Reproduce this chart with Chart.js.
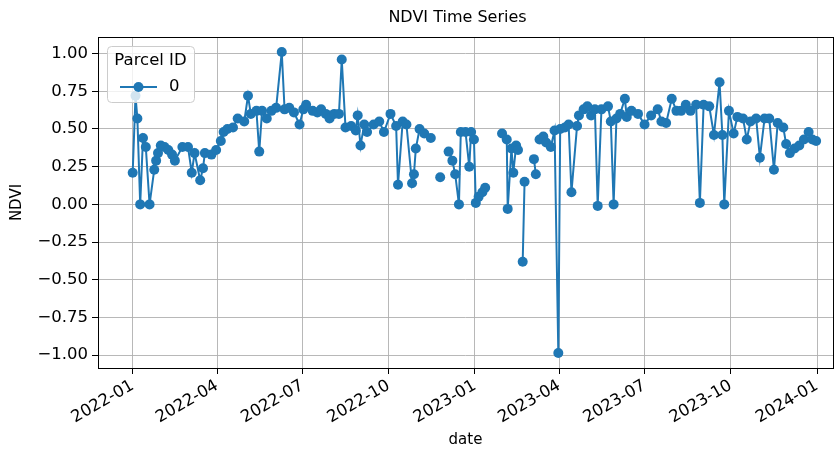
<!DOCTYPE html>
<html>
<head>
<meta charset="utf-8">
<script src="https://cdn.jsdelivr.net/npm/chart.js@4.4.0/dist/chart.umd.min.js"></script>
<style>
  html, body { margin: 0; padding: 0; background: #fff; overflow: hidden; }
  canvas { display: block; }
</style>
</head>
<body>
<canvas id="ndviChart" width="838" height="452"></canvas>
<script>
// observation dates (null values break the line, like NaN in pandas)
var dates = [
  '2022-01-01','2022-01-04','2022-01-06','2022-01-09','2022-01-12','2022-01-15','2022-01-19','2022-01-24',
  '2022-01-26','2022-01-28','2022-01-31','2022-02-04','2022-02-08','2022-02-12','2022-02-15','2022-02-23',
  '2022-03-01','2022-03-05','2022-03-08','2022-03-14','2022-03-17','2022-03-19','2022-03-26','2022-03-31',
  '2022-04-05','2022-04-08','2022-04-12','2022-04-18','2022-04-23','2022-04-30','2022-05-04','2022-05-07',
  '2022-05-13','2022-05-16','2022-05-19','2022-05-24','2022-05-29','2022-06-03','2022-06-09','2022-06-12',
  '2022-06-17','2022-06-22','2022-06-28','2022-07-02','2022-07-05','2022-07-12','2022-07-17','2022-07-21',
  '2022-07-26','2022-07-30','2022-08-04','2022-08-09','2022-08-12','2022-08-16','2022-08-22','2022-08-27',
  '2022-08-29','2022-09-01','2022-09-05','2022-09-08','2022-09-15','2022-09-21','2022-09-26','2022-10-03',
  '2022-10-09','2022-10-11','2022-10-16','2022-10-20','2022-10-26','2022-10-28','2022-10-30','2022-11-03',
  '2022-11-08','2022-11-15','2022-11-20','2022-11-25','2022-11-30','2022-12-04','2022-12-08','2022-12-11',
  '2022-12-15','2022-12-17','2022-12-22','2022-12-26','2022-12-28','2022-12-31','2023-01-02','2023-01-05',
  '2023-01-09','2023-01-12','2023-01-20','2023-01-30','2023-02-04','2023-02-05','2023-02-09','2023-02-11',
  '2023-02-14','2023-02-16','2023-02-18','2023-02-21','2023-02-23','2023-03-01','2023-03-05','2023-03-07',
  '2023-03-09','2023-03-11','2023-03-15','2023-03-18','2023-03-23','2023-03-27','2023-03-31','2023-04-02',
  '2023-04-07','2023-04-11','2023-04-14','2023-04-20','2023-04-22','2023-04-27','2023-05-01','2023-05-05',
  '2023-05-09','2023-05-12','2023-05-16','2023-05-23','2023-05-26','2023-05-29','2023-06-01','2023-06-05',
  '2023-06-10','2023-06-12','2023-06-17','2023-06-24','2023-07-01','2023-07-08','2023-07-15','2023-07-19',
  '2023-07-24','2023-07-30','2023-08-04','2023-08-09','2023-08-14','2023-08-19','2023-08-25','2023-08-29',
  '2023-09-02','2023-09-08','2023-09-13','2023-09-19','2023-09-22','2023-09-24','2023-09-29','2023-10-04',
  '2023-10-08','2023-10-14','2023-10-18','2023-10-22','2023-10-28','2023-11-01','2023-11-06','2023-11-11',
  '2023-11-16','2023-11-20','2023-11-26','2023-11-29','2023-12-03','2023-12-08','2023-12-13','2023-12-18',
  '2023-12-23','2023-12-27','2023-12-31'
];

var ndvi = [
  0.21, 0.72, 0.57, 0.00, 0.44, 0.38, 0.00, 0.23,
  0.29, 0.34, 0.39, 0.38, 0.36, 0.33, 0.29, 0.38,
  0.38, 0.21, 0.34, 0.16, 0.24, 0.34, 0.33, 0.36,
  0.42, 0.48, 0.50, 0.51, 0.57, 0.55, 0.72, 0.60,
  0.62, 0.35, 0.62, 0.57, 0.62, 0.64, 1.01, 0.63,
  0.64, 0.61, 0.53, 0.63, 0.66, 0.62, 0.61, 0.63,
  0.60, 0.57, 0.60, 0.60, 0.96, 0.51, 0.52, 0.49,
  0.59, 0.39, 0.53, 0.48, 0.53, 0.55, 0.48, 0.60,
  0.52, 0.13, 0.55, 0.53, 0.14, 0.20, 0.37, 0.50,
  0.47, 0.44, null, 0.18, null, 0.35, 0.29, 0.20,
  0.00, 0.48, 0.48, 0.25, 0.48, 0.43, 0.01, 0.05,
  0.08, 0.11, null, 0.47, 0.43, -0.03, 0.37, 0.21,
  0.39, 0.36, null, -0.38, 0.15, null, 0.30, 0.20,
  null, 0.43, 0.45, 0.41, 0.38, 0.49, -0.985, 0.50,
  0.51, 0.53, 0.08, 0.52, 0.59, 0.63, 0.65, 0.59,
  0.63, -0.01, 0.63, 0.65, 0.55, 0.00, 0.57, 0.60,
  0.70, 0.58, 0.62, 0.60, 0.53, 0.59, 0.63, 0.55,
  0.54, 0.70, 0.62, 0.62, 0.66, 0.62, 0.66, 0.01,
  0.66, 0.65, 0.46, 0.81, 0.46, 0.00, 0.62, 0.47,
  0.58, 0.57, 0.43, 0.55, 0.57, 0.31, 0.57, 0.57,
  0.23, 0.54, 0.51, 0.40, 0.34, 0.37, 0.39, 0.43,
  0.48, 0.43, 0.42
];

var xTickLabels = ['2022-01','2022-04','2022-07','2022-10','2023-01','2023-04','2023-07','2023-10','2024-01'];
var xRange = ['2021-11-25', '2024-01-18'];
var yTicks = [-1.00, -0.75, -0.50, -0.25, 0.00, 0.25, 0.50, 0.75, 1.00];
var seriesLabel = '0';
var legendTitle = 'Parcel ID';
var chartTitle = 'NDVI Time Series';

var FONT = '"DejaVu Sans", sans-serif';
var BLUE = '#1f77b4';

function toTime(s) {
  return Date.parse(s.length === 7 ? s + '-01' : s);
}

function monthLabel(ms) {
  var d = new Date(ms);
  return d.getUTCFullYear() + '-' + String(d.getUTCMonth() + 1).padStart(2, '0');
}

var points = dates.map(function (d, i) { return { x: toTime(d), y: ndvi[i] }; });

// y limits with matplotlib style 5% margins
var ys = ndvi.filter(function (v) { return v !== null; });
var yMin = Math.min.apply(null, ys), yMax = Math.max.apply(null, ys);
var yPad = (yMax - yMin) * 0.05;

// title over the axes + the four spines
var framePlugin = {
  id: 'frame',
  afterDatasetsDraw: function (chart) {
    var a = chart.chartArea, ctx = chart.ctx;
    ctx.save();
    ctx.strokeStyle = '#000';
    ctx.lineWidth = 1;
    ctx.strokeRect(Math.round(a.left) + 0.5, Math.round(a.top) + 0.5,
      Math.round(a.right - a.left), Math.round(a.bottom - a.top));
    ctx.fillStyle = '#000';
    ctx.font = '16px ' + FONT;
    ctx.textAlign = 'center';
    ctx.textBaseline = 'middle';
    ctx.fillText(chartTitle, (a.left + a.right) / 2 - 8, 18);
    ctx.restore();
  }
};

// matplotlib-like legend box in the upper left corner
var boxLegend = {
  id: 'boxLegend',
  afterDraw: function (chart) {
    var ctx = chart.ctx, a = chart.chartArea;
    var ds = chart.data.datasets[0];
    var x = a.left + 9, y = a.top + 9, w = 87, h = 56;
    ctx.save();
    ctx.beginPath();
    ctx.roundRect(x + 0.5, y + 0.5, w, h, 4);
    ctx.fillStyle = 'rgba(255,255,255,0.8)';
    ctx.fill();
    ctx.strokeStyle = '#cccccc';
    ctx.lineWidth = 1;
    ctx.stroke();

    ctx.fillStyle = '#000';
    ctx.font = '16.5px ' + FONT;
    ctx.textAlign = 'center';
    ctx.textBaseline = 'middle';
    ctx.fillText(legendTitle, x + w / 2, y + 15);

    ctx.strokeStyle = ds.borderColor;
    ctx.lineWidth = ds.borderWidth;
    ctx.beginPath();
    ctx.moveTo(x + 13, y + 41);
    ctx.lineTo(x + 50, y + 41);
    ctx.stroke();
    ctx.fillStyle = ds.pointBackgroundColor;
    ctx.beginPath();
    ctx.arc(x + 31.5, y + 41, ds.pointRadius, 0, Math.PI * 2);
    ctx.fill();

    ctx.fillStyle = '#000';
    ctx.textAlign = 'left';
    ctx.fillText(ds.label, x + 62, y + 41);
    ctx.restore();
  }
};

new Chart(document.getElementById('ndviChart'), {
  type: 'line',
  data: {
    datasets: [{
      label: seriesLabel,
      data: points,
      borderColor: BLUE,
      borderWidth: 2,
      pointRadius: 5,
      pointBackgroundColor: BLUE,
      pointBorderWidth: 0,
      tension: 0,
      spanGaps: false
    }]
  },
  options: {
    responsive: false,
    animation: false,
    layout: { padding: { top: 37, right: 3, left: 0, bottom: 0 } },
    plugins: {
      legend: { display: false },
      tooltip: { enabled: false },
      title: { display: false }
    },
    scales: {
      x: {
        type: 'linear',
        min: toTime(xRange[0]),
        max: toTime(xRange[1]),
        afterBuildTicks: function (scale) {
          scale.ticks = xTickLabels.map(function (l) { return { value: toTime(l) }; });
        },
        afterFit: function (scale) { scale.height = 84; },
        grid: { color: '#b0b0b0', lineWidth: 0.9, tickColor: '#000', tickLength: 6, tickWidth: 1 },
        border: { display: false },
        ticks: {
          autoSkip: false,
          minRotation: 30,
          maxRotation: 30,
          padding: 2,
          color: '#000',
          font: { family: FONT, size: 16.5 },
          callback: function (v) { return monthLabel(v); }
        },
        title: {
          display: true,
          text: 'date',
          color: '#000',
          font: { family: FONT, size: 15 },
          padding: { top: 3, bottom: 3 }
        }
      },
      y: {
        min: yMin - yPad,
        max: yMax + yPad,
        afterBuildTicks: function (scale) {
          scale.ticks = yTicks.map(function (v) { return { value: v }; });
        },
        afterFit: function (scale) { scale.width = 98; },
        grid: { color: '#b0b0b0', lineWidth: 0.9, tickColor: '#000', tickLength: 6, tickWidth: 1 },
        border: { display: false },
        ticks: {
          padding: 4,
          color: '#000',
          font: { family: FONT, size: 16.5 },
          callback: function (v) { return v.toFixed(2).replace('-', '\u2212'); }
        },
        title: {
          display: true,
          text: 'NDVI',
          color: '#000',
          font: { family: FONT, size: 15 },
          padding: { top: 8, bottom: 8 }
        }
      }
    }
  },
  plugins: [framePlugin, boxLegend]
});
</script>
</body>
</html>
